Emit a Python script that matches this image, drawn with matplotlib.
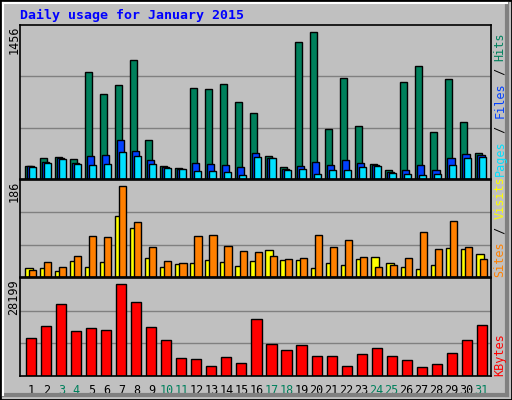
import matplotlib
matplotlib.use("Agg")
import matplotlib.pyplot as plt
from matplotlib.patches import Rectangle
from matplotlib.lines import Line2D

days = list(range(1, 32))
hits = [128,199,208,189,1036,815,911,1151,372,128,103,882,872,920,747,632,225,112,1324,1420,487,978,507,141,83,940,1093,449,968,545,247]
files = [122,167,199,157,218,228,372,266,180,119,96,151,141,131,112,247,199,93,122,160,131,180,151,131,64,83,131,83,199,237,228]
pages = [119,157,189,141,131,141,257,218,141,103,93,74,74,64,35,208,199,83,93,51,83,83,112,122,55,45,35,45,131,199,208]
sites = [17.5,17.5,12,33,21,31,125,100,40,21,27,29,34,31,23,33,55,34,34,19,29,25,36,42,29,21,16,25,59,57,48]
visits = [14,31,21,44,85,83,186,113,61,33,29,85,87,63,53,51,44,36,40,87,61,76,42,21,25,38,93,57,115,61,36]
kbytes = [11200,14900,21400,13400,14300,13700,27400,22000,14600,10600,5200,4900,3100,5500,4000,16900,9400,7600,9100,5800,5800,3100,6400,8200,5800,4600,2800,3700,6700,10600,15100]
weekend = [3,4,10,11,17,18,24,25,31]
title = "Daily usage for January 2015"

W, H = 512, 400
fig = plt.figure(figsize=(W/100, H/100), dpi=100, facecolor="#C0C0C0")
mono = "DejaVu Sans Mono"

def px_axes(x0, y0, x1, y1):
    return fig.add_axes([x0/W, 1 - y1/H, (x1-x0)/W, (y1-y0)/H])

xl = (0.30, 31.67)
G, B, C = "#00805C", "#0040FF", "#00E0FF"

def style(ax, ymax):
    ax.set_facecolor("#C0C0C0")
    ax.set_xlim(*xl)
    ax.set_ylim(0, ymax * 1.0)
    for s in ax.spines.values():
        s.set_color("black"); s.set_linewidth(1.2)
    ax.set_xticks([]); ax.set_yticks([])
    for f in (1/3, 2/3):
        ax.axhline(ymax*f, color="#808080", lw=1, zorder=0)

ax1 = px_axes(20, 25, 491, 179)
m1 = 1456 * 152/ (152-0.0)
style(ax1, 1456*1.02)
kw = dict(edgecolor="black", linewidth=1, align="edge", width=0.47)
ax1.bar([d-0.37 for d in days], hits, color=G, **kw)
ax1.bar([d-0.23 for d in days], files, color=B, **kw)
ax1.bar([d-0.10 for d in days], pages, color=C, **kw)

ax2 = px_axes(20, 180, 491, 277)
style(ax2, 186*1.07)
ax2.bar([d-0.35 for d in days], sites, color="#FFFF00", edgecolor="black", linewidth=1, align="edge", width=0.53)
ax2.bar([d-0.08 for d in days], visits, color="#FF8000", **kw)

ax3 = px_axes(20, 278, 491, 376)
style(ax3, 28199*1.03)
ax3.bar([d+0.05 for d in days], kbytes, color="#FF0000", edgecolor="black", linewidth=1, width=0.67)

# x labels
for d in days:
    ax3.text(d + 0.05, -0.08, str(d), transform=ax3.get_xaxis_transform(), ha="center", va="top",
             fontsize=8.5, family=mono, color=G if d in weekend else "black")

fig.text(20/W, 1-15/H, title, color="#0000FF", fontsize=9.5, family=mono, fontweight="bold", va="center", ha="left")

# left max labels
for y, t in [(25, "1456"), (181, "186"), (279, "28199")]:
    fig.text(14/W, 1-y/H, t, rotation=90, fontsize=8.5, family=mono, va="top", ha="center")

# right labels
def vlabel(y_bottom, parts):
    y = y_bottom
    for txt, col in parts:
        fig.text(500/W, 1-y/H, txt, rotation=90, fontsize=8.5, family=mono, color=col, va="bottom", ha="center")
        y -= len(txt) * 7.2
vlabel(176, [("Pages", C), (" / ", "black"), ("Files", B), (" / ", "black"), ("Hits", G)])
vlabel(277, [("Sites", "#FF8000"), (" / ", "black"), ("Visits", "#FFFF00")])
vlabel(376, [("KBytes", "#FF0000")])

# frame
fig.add_artist(Rectangle((0, 0), 1, 1, transform=fig.transFigure, fill=False, edgecolor="black", lw=2))
fig.add_artist(Line2D([507/W, 507/W], [5/H, 1-4/H], transform=fig.transFigure, color="#808080", lw=3))
fig.add_artist(Line2D([4/W, 507/W], [5/H, 5/H], transform=fig.transFigure, color="#808080", lw=3))
fig.add_artist(Line2D([3/W, 3/W], [5/H, 1-3/H], transform=fig.transFigure, color="white", lw=1.5))
fig.add_artist(Line2D([3/W, 507/W], [1-3/H, 1-3/H], transform=fig.transFigure, color="white", lw=1.5))

fig.savefig("out.png", dpi=100, facecolor=fig.get_facecolor())
